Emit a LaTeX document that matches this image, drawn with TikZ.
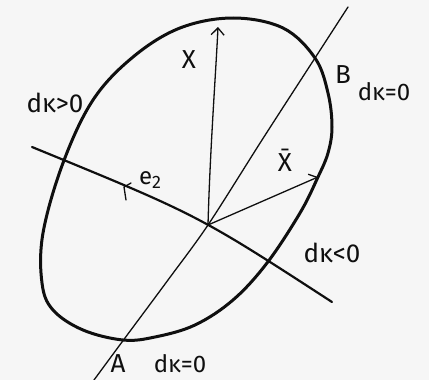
\documentclass[tikz,border=0pt]{standalone}
\usepackage{fontspec}
\setmainfont{Fira Sans}
\usetikzlibrary{arrows.meta}
\definecolor{paper}{RGB}{246,246,246}
\definecolor{ink}{RGB}{15,15,15}
\begin{document}
\begin{tikzpicture}[x=1pt,y=-1pt,
  thinline/.style={draw=ink,line width=1.3pt,line cap=round},
  midline/.style={draw=ink,line width=2.2pt,line cap=round},
  thickline/.style={draw=ink,line width=3pt},
  hand/.style={text=ink,font=\fontsize{26}{30}\selectfont,inner sep=0pt},
  smallhand/.style={text=ink,font=\fontsize{24}{28}\selectfont,inner sep=0pt},
  barb/.style={-{Straight Barb[length=7pt,width=13pt,line width=1.3pt]}}]
\fill[paper] (0,0) rectangle (429,380);
\useasboundingbox (0,0) rectangle (429,380);
% ellipse
\draw[thickline] plot[smooth cycle,tension=0.6] coordinates {
 (233,18) (283,28) (315,58) (328,93) (332,127) (328,153) (318,177) (300,213)
 (267,263) (233,300) (195,325) (155,337) (123,340) (83,330) (53,310) (42,283)
 (43,233) (63,163) (93,100) (133,57) (180,28)};
\coordinate (O) at (208,225);
\coordinate (Xtip) at (218,27);
\coordinate (Xbtip) at (318,177);
\coordinate (E1) at (32,147);
\coordinate (E2) at (332,302);
% long line through A and B
\draw[thinline] plot[smooth,tension=0.5] coordinates {(94,380) (122,342) (168,280) (208,225) (262,140) (315,58) (348,7)};
% e2 line
\draw[midline] (E1) .. controls (198,215) .. (E2);
% e2 arrow mark
\draw[thinline] (131,183) -- (124,187) -- (126,200);
% X arrow
\draw[thinline,barb] (O) .. controls (210,150) and (216,70) .. (Xtip);
% Xbar arrow
\draw[thinline,barb] (O) -- (Xbtip);
% labels
\node[hand] (lX) at (189,60) {X};
\node[hand] (lXb) at (285,160) {\=X};
\node[smallhand] (le2) at (150,180) {e\raisebox{-0.35ex}{\fontsize{18}{20}\selectfont 2}};
\node[hand] (lkp) at (55,103) {dκ>0};
\node[hand] (lB) at (343,75) {B};
\node[smallhand] (lkB) at (384,92) {dκ=0};
\node[hand] (lkn) at (332,253) {dκ<0};
\node[hand] (lA) at (118,364) {A};
\node[smallhand] (lkA) at (180,364) {dκ=0};
\end{tikzpicture}
\end{document}
